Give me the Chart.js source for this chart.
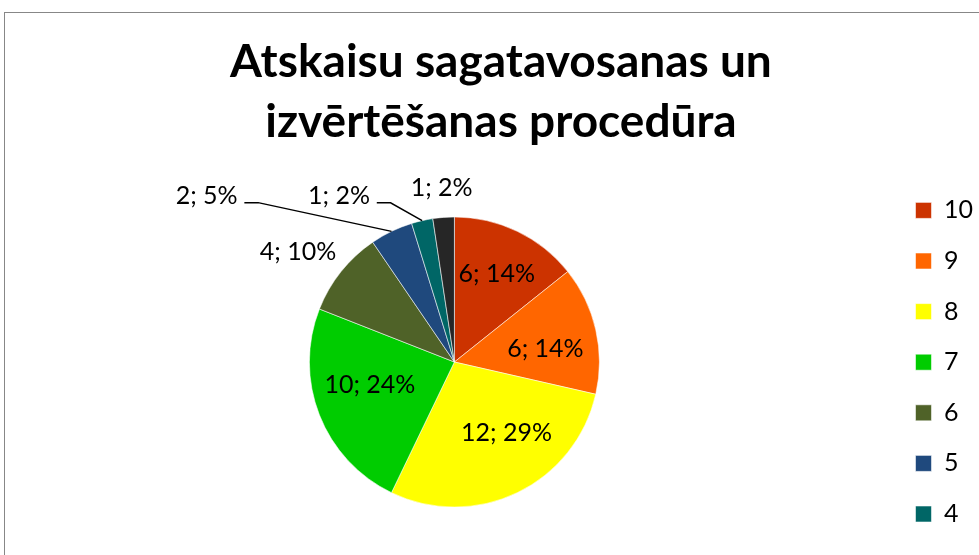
<!DOCTYPE html>
<html><head><meta charset="utf-8">
<script src="https://cdn.jsdelivr.net/npm/chart.js@4.4.1/dist/chart.umd.min.js"></script>
<style>
html,body{margin:0;padding:0;background:#fff;overflow:hidden;width:979px;height:555px}
#frame{position:absolute;left:4px;top:12px;border:1px solid #878787;width:978px;height:749px}
canvas{display:block}
</style></head><body>
<div id="frame"><canvas id="c" width="978" height="749"></canvas></div>
<script>
const categories = ['10', '9', '8', '7', '6', '5', '4', '3'];
const counts = [6, 6, 12, 10, 4, 2, 1, 1];
const sliceColors = ['#CC3300', '#FF6600', '#FFFF00', '#00CC00', '#4F6228', '#1F497D', '#006666', '#262626'];
const titleLines = ['Atskaisu sagatavosanas un', 'izvērtēšanas procedūra'];
// label placement: distance as a share of the outer radius, and turn (degrees) from the slice middle
const labelRadius = [0.674, 0.634, 0.605, 0.603, 1.319, 2.058, 1.395, 1.207];
const labelShift = [0, 4.8, -10.8, 6.5, -3.4, -30.4, -21.9, 0.1];
const labelLeader = [false, false, false, false, false, true, true, false];

const dataLabels = {
  id: 'dataLabels',
  afterDatasetsDraw(chart) {
    const ctx = chart.ctx;
    const meta = chart.getDatasetMeta(0);
    const data = chart.data.datasets[0].data;
    const total = data.reduce((a, b) => a + b, 0);
    ctx.save();
    ctx.font = '25px Lato';
    ctx.fillStyle = '#000';
    ctx.strokeStyle = '#000';
    ctx.lineWidth = 1.5;
    ctx.textAlign = 'center';
    ctx.textBaseline = 'middle';
    meta.data.forEach((arc, i) => {
      const p = arc.getProps(['x', 'y', 'startAngle', 'endAngle', 'outerRadius'], true);
      const mid = (p.startAngle + p.endAngle) / 2;
      const a = mid + labelShift[i] * Math.PI / 180;
      const r = labelRadius[i] * p.outerRadius;
      const lx = p.x + Math.cos(a) * r, ly = p.y + Math.sin(a) * r;
      const text = data[i] + '; ' + Math.round(data[i] / total * 100) + '%';
      ctx.fillText(text, lx, ly);
      if (labelLeader[i]) {
        const w = ctx.measureText(text).width;
        const right = lx + w / 2;
        const yl = ly + 7;
        ctx.beginPath();
        ctx.moveTo(p.x + Math.cos(mid) * p.outerRadius, p.y + Math.sin(mid) * p.outerRadius);
        ctx.lineTo(right + 20.5, yl);
        ctx.lineTo(right + 6.7, yl);
        ctx.stroke();
      }
    });
    ctx.restore();
  }
};

new Chart(document.getElementById('c'), {
  type: 'pie',
  data: {
    labels: categories,
    datasets: [{
      data: counts,
      backgroundColor: sliceColors,
      borderColor: 'rgba(255,255,255,0.55)',
      borderWidth: 1
    }]
  },
  options: {
    responsive: false,
    animation: false,
    layout: { padding: { left: 13.9, right: 0, top: 0, bottom: 0 } },
    plugins: {
      title: {
        display: true, text: titleLines, color: '#000',
        font: { family: 'Lato', weight: 'bold', size: 46, lineHeight: 60 / 46 },
        padding: { top: 19.2, bottom: 64.3 }
      },
      subtitle: {
        display: true, position: 'bottom', text: '',
        font: { size: 10, lineHeight: 1 },
        padding: { top: 244.5, bottom: 0 }
      },
      legend: {
        position: 'right', align: 'center',
        labels: { color: '#000', font: { family: 'Lato', size: 25 }, boxWidth: 16, boxHeight: 16, padding: 25.6 }
      },
      tooltip: { enabled: false }
    }
  },
  plugins: [dataLabels]
});
</script>
</body></html>
